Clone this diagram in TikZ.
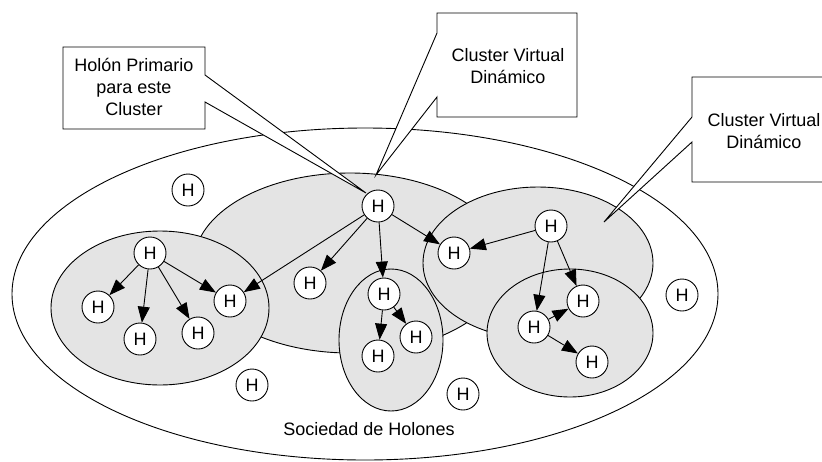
\documentclass[tikz,border=0pt]{standalone}
\usepackage{fontspec}
\setmainfont{Liberation Sans}
\usetikzlibrary{arrows.meta}
\definecolor{clusgray}{RGB}{228,228,228}
\begin{document}
\begin{tikzpicture}[x=1pt,y=-1pt,line width=0.9pt,
  hol/.style={circle,draw,fill=white,minimum size=32pt,inner sep=0pt,font=\fontsize{18}{22}\selectfont},
  clusell/.style={draw,fill=clusgray},
  arr/.style={-{Triangle[length=16pt,width=12pt]}},
  callout/.style={draw,fill=white},
  txt/.style={font=\fontsize{18}{22}\selectfont,align=center,inner sep=0pt}]
\useasboundingbox (0,0) rectangle (822,461);
% society and clusters
\draw[fill=white] (365,294) ellipse [x radius=353pt, y radius=166pt];
\draw[clusell] (350,263) ellipse [x radius=156pt, y radius=90pt];
\draw[clusell] (160,308) ellipse [x radius=109pt, y radius=77pt];
\draw[clusell] (391,340) ellipse [x radius=52pt, y radius=71pt];
\draw[clusell] (538,263) ellipse [x radius=115pt, y radius=76pt];
\draw[clusell] (570,333) ellipse [x radius=83pt, y radius=64pt];
\node[txt] (soc) at (369,429) {Sociedad de Holones};
% callouts
\coordinate (tipA) at (366,193);
\coordinate (tipB) at (376,175);
\coordinate (tipC) at (604,222);
\draw[callout] (63,47) -- (205,47) -- (205,75) -- (tipA) -- (205,102) -- (205,129) -- (63,129) -- cycle;
\node[txt] (labA) at (134,87) {Holón Primario\\para este\\Cluster};
\draw[callout] (437,13) -- (577,13) -- (577,117) -- (437,117) -- (437,97) -- (tipB) -- (437,33) -- cycle;
\node[txt] (labB) at (508,66) {Cluster Virtual\\Dinámico};
\draw[callout] (692,77) -- (840,77) -- (840,182) -- (692,182) -- (692,142) -- (tipC) -- (692,117) -- cycle;
\node[txt] (labC) at (764,131) {Cluster Virtual\\Dinámico};
% holons
\node[hol] (n1) at (378,206) {H};
\node[hol] (n2) at (188,190) {H};
\node[hol] (n3) at (150,253) {H};
\node[hol] (n4) at (98,307) {H};
\node[hol] (n5) at (140,339) {H};
\node[hol] (n6) at (198,333) {H};
\node[hol] (n7) at (230,301) {H};
\node[hol] (n8) at (310,283) {H};
\node[hol] (n9) at (384,294) {H};
\node[hol] (n10) at (378,356) {H};
\node[hol] (n11) at (416,337) {H};
\node[hol] (n12) at (463,394) {H};
\node[hol] (n13) at (252,385) {H};
\node[hol] (n14) at (454,253) {H};
\node[hol] (n15) at (551,226) {H};
\node[hol] (n16) at (534,327) {H};
\node[hol] (n17) at (583,301) {H};
\node[hol] (n18) at (592,362) {H};
\node[hol] (n19) at (682,295) {H};
% links
\draw[arr] (n1) -- (n7);
\draw[arr] (n1) -- (n8);
\draw[arr] (n1) -- (n9);
\draw[arr] (n1) -- (n14);
\draw[arr] (n3) -- (n4);
\draw[arr] (n3) -- (n5);
\draw[arr] (n3) -- (n6);
\draw[arr] (n3) -- (n7);
\draw[arr] (n9) -- (n10);
\draw[arr] (n9) -- (n11);
\draw[arr] (n15) -- (n14);
\draw[arr] (n15) -- (n16);
\draw[arr] (n15) -- (n17);
\draw[arr] (n16) -- (n17);
\draw[arr] (n16) -- (n18);
\end{tikzpicture}
\end{document}
